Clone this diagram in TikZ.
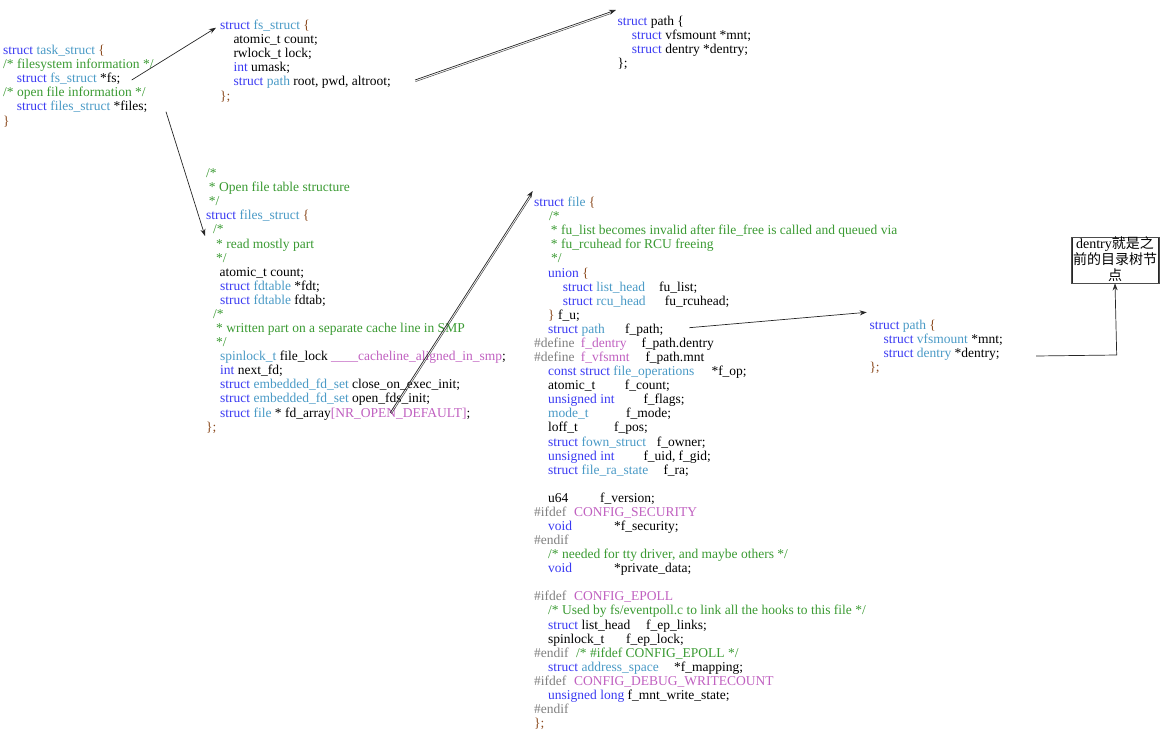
\documentclass[tikz,border=0pt]{standalone}
\usepackage{fontspec}
\setmainfont{Liberation Serif}
\newfontfamily\cjk{Noto Sans CJK SC}
\usetikzlibrary{arrows.meta,calc}
\definecolor{kwc}{HTML}{3A3AF2}
\definecolor{tyc}{HTML}{4A9AC6}
\definecolor{cmc}{HTML}{3A9A32}
\definecolor{mcc}{HTML}{C060C0}
\definecolor{ppc}{HTML}{808080}
\definecolor{brc}{HTML}{8B4A1E}
\newcommand\ckw[1]{\textcolor{kwc}{#1}}
\newcommand\cty[1]{\textcolor{tyc}{#1}}
\newcommand\ccm[1]{\textcolor{cmc}{#1}}
\newcommand\cmac[1]{\textcolor{mcc}{#1}}
\newcommand\cpp[1]{\textcolor{ppc}{#1}}
\newcommand\cbr[1]{\textcolor{brc}{#1}}
\newcommand\colbox[2]{\makebox[#1pt][l]{#2}}
\begin{document}
\begin{tikzpicture}[x=1pt,y=-1pt,
  code/.style={anchor=north west, inner sep=0pt, align=left, text=black,
    font={\fontsize{13.5}{14.08}\selectfont\lineskiplimit=-20pt}},
  conn/.style={draw=black!85, line width=0.7pt, -{Stealth[length=7pt,width=5pt]}},
  conn2/.style={draw=black!75, line width=0.5pt, shorten >=5pt}]
\useasboundingbox (0,0) rectangle (1163,736);

% task_struct
\node[code] (task) at (3,44.6) {\strut\ckw{struct} \cty{task\_struct} \cbr{\{}\\
\ccm{/* filesystem information */}\\
\hspace*{13.7pt}\ckw{struct} \cty{fs\_struct} *fs;\\
\ccm{/* open file information */}\\
\hspace*{13.7pt}\ckw{struct} \cty{files\_struct} *files;\\
\cbr{\}}};

% fs_struct
\node[code] (fs) at (220,19.6) {\strut\ckw{struct} \cty{fs\_struct} \cbr{\{}\\
\hspace*{13.3pt}atomic\_t count;\\
\hspace*{13.3pt}rwlock\_t lock;\\
\hspace*{13.3pt}\ckw{int} umask;\\
\hspace*{13.3pt}\ckw{struct} \cty{path} root, pwd, altroot;\\
\cbr{\};}};

% path (top)
\node[code] (pathA) at (617.3,15.6) {\strut\ckw{struct} path \{\\
\hspace*{14.4pt}\ckw{struct} vfsmount *mnt;\\
\hspace*{14.4pt}\ckw{struct} dentry *dentry;\\
\};};

% files_struct
\node[code] (files) at (206,167.6) {\strut\ccm{/*}\\
\hspace*{2.7pt}\ccm{* Open file table structure}\\
\hspace*{2.7pt}\ccm{*/}\\
\ckw{struct} \cty{files\_struct} \cbr{\{}\\
\hspace*{7pt}\ccm{/*}\\
\hspace*{10pt}\ccm{* read mostly part}\\
\hspace*{10pt}\ccm{*/}\\
\hspace*{13.5pt}atomic\_t count;\\
\hspace*{14pt}\ckw{struct} \cty{fdtable} *fdt;\\
\hspace*{14pt}\ckw{struct} \cty{fdtable} fdtab;\\
\hspace*{7pt}\ccm{/*}\\
\hspace*{10pt}\ccm{* written part on a separate cache line in SMP}\\
\hspace*{10pt}\ccm{*/}\\
\hspace*{14pt}\cty{spinlock\_t} file\_lock \cmac{\_\_\_\_cacheline\_aligned\_in\_smp};\\
\hspace*{14pt}\ckw{int} next\_fd;\\
\hspace*{14pt}\ckw{struct} \cty{embedded\_fd\_set} close\_on\_exec\_init;\\
\hspace*{14pt}\ckw{struct} \cty{embedded\_fd\_set} open\_fds\_init;\\
\hspace*{14pt}\ckw{struct} \cty{file} * fd\_array\cmac{[NR\_OPEN\_DEFAULT]};\\
\cbr{\};}};

% struct file
\node[code] (file) at (534,196.6) {\strut\ckw{struct} \cty{file} \cbr{\{}\\
\hspace*{15pt}\ccm{/*}\\
\hspace*{16.7pt}\ccm{* fu\_list becomes invalid after file\_free is called and queued via}\\
\hspace*{16.7pt}\ccm{* fu\_rcuhead for RCU freeing}\\
\hspace*{17pt}\ccm{*/}\\
\hspace*{14pt}\ckw{union} \cbr{\{}\\
\hspace*{28.7pt}\colbox{96.3}{\ckw{struct} \cty{list\_head}}fu\_list;\\
\hspace*{28.7pt}\colbox{102}{\ckw{struct} \cty{rcu\_head}}fu\_rcuhead;\\
\hspace*{14pt}\cbr{\}} f\_u;\\
\hspace*{14pt}\colbox{77}{\ckw{struct} \cty{path}}f\_path;\\
\colbox{46.7}{\cpp{\#define}}\colbox{60.6}{\cmac{f\_dentry}}f\_path.dentry\\
\colbox{46.7}{\cpp{\#define}}\colbox{64.6}{\cmac{f\_vfsmnt}}f\_path.mnt\\
\hspace*{14pt}\colbox{163.3}{\ckw{const struct} \cty{file\_operations}}*f\_op;\\
\hspace*{14pt}\colbox{76.7}{atomic\_t}f\_count;\\
\hspace*{14pt}\colbox{95.3}{\ckw{unsigned int}}f\_flags;\\
\hspace*{14pt}\colbox{78}{\cty{mode\_t}}f\_mode;\\
\hspace*{14pt}\colbox{66}{loff\_t}f\_pos;\\
\hspace*{14pt}\colbox{108.7}{\ckw{struct} \cty{fown\_struct}}f\_owner;\\
\hspace*{14pt}\colbox{95.3}{\ckw{unsigned int}}f\_uid, f\_gid;\\
\hspace*{14pt}\colbox{115.3}{\ckw{struct} \cty{file\_ra\_state}}f\_ra;\\
\strut\\
\hspace*{14pt}\colbox{52}{u64}f\_version;\\
\colbox{40}{\cpp{\#ifdef}}\cmac{CONFIG\_SECURITY}\\
\hspace*{14pt}\colbox{66}{\ckw{void}}*f\_security;\\
\cpp{\#endif}\\
\hspace*{14pt}\ccm{/* needed for tty driver, and maybe others */}\\
\hspace*{14pt}\colbox{66}{\ckw{void}}*private\_data;\\
\strut\\
\colbox{40}{\cpp{\#ifdef}}\cmac{CONFIG\_EPOLL}\\
\hspace*{14pt}\ccm{/* Used by fs/eventpoll.c to link all the hooks to this file */}\\
\hspace*{14pt}\colbox{98}{\ckw{struct} list\_head}f\_ep\_links;\\
\hspace*{14pt}\colbox{78}{spinlock\_t}f\_ep\_lock;\\
\colbox{42}{\cpp{\#endif}}\ccm{/* \#ifdef CONFIG\_EPOLL */}\\
\hspace*{14pt}\colbox{126}{\ckw{struct} \cty{address\_space}}*f\_mapping;\\
\colbox{40}{\cpp{\#ifdef}}\cmac{CONFIG\_DEBUG\_WRITECOUNT}\\
\hspace*{14pt}\ckw{unsigned long} f\_mnt\_write\_state;\\
\cpp{\#endif}\\
\cbr{\};}};

% path (right)
\node[code] (pathB) at (869.3,319.6) {\strut\ckw{struct} \cty{path} \cbr{\{}\\
\hspace*{14pt}\ckw{struct} \cty{vfsmount} *mnt;\\
\hspace*{14pt}\ckw{struct} \cty{dentry} *dentry;\\
\cbr{\};}};

% dentry note box
\node[draw=black!85, line width=0.8pt, minimum width=86pt, minimum height=46pt, inner sep=0pt] (dbox) at (1115,260) {};
\draw[black!70, line width=0.4pt] ($(dbox.north west)+(-0.8,0.7)$) rectangle ($(dbox.south east)+(0.7,-0.6)$);
\node[inner sep=0pt, align=center, font={\fontsize{14}{16}\selectfont}] (dtext) at (1115,259)
  {dentry{\cjk 就是之}\\{\cjk 前的目录树节}\\{\cjk 点}};

% connector end points
\coordinate (fsptr) at (131.7,80);
\coordinate (fshead) at (216,27.7);
\coordinate (filesptr) at (166,111.7);
\coordinate (fileshead) at (205,236);
\coordinate (fdarr) at (390,413);
\coordinate (filehead) at (532.7,191);
\coordinate (rootln) at (415,80);
\coordinate (pathAhead) at (616,10);
\coordinate (fpath) at (689.3,327.7);
\coordinate (pathBhead) at (866.7,312.3);
\coordinate (dptr) at (1036,356);
\coordinate (dcorner) at (1116.7,355);

% connectors
\draw[conn] (fsptr) -- (fshead);
\draw[conn] (filesptr) -- (fileshead);
\draw[conn] (fdarr) -- (filehead);
\draw[conn2] ($(fdarr)+(1.4,0.8)$) -- ($(filehead)+(1.4,0.8)$);
\draw[conn] (rootln) -- (pathAhead);
\draw[conn2] ($(rootln)+(0.5,1.6)$) -- ($(pathAhead)+(0.5,1.6)$);
\draw[conn] (fpath) -- (pathBhead);
\draw[conn] (dptr) -- (dcorner) -- (dbox.south);
\end{tikzpicture}
\end{document}
